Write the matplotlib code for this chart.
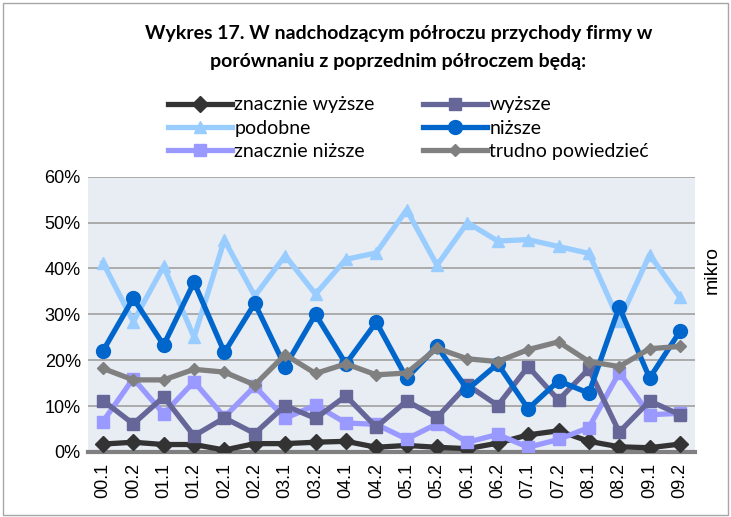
import matplotlib

matplotlib.use("Agg")
import matplotlib.pyplot as plt
from matplotlib.patches import Rectangle

periods = ["00.1", "00.2", "01.1", "01.2", "02.1", "02.2", "03.1", "03.2", "04.1", "04.2",
           "05.1", "05.2", "06.1", "06.2", "07.1", "07.2", "08.1", "08.2", "09.1", "09.2"]

znacznie_wyzsze = [1.7, 2.1, 1.6, 1.6, 0.4, 1.8, 1.8, 2.1, 2.3, 1.0,
                   1.4, 1.0, 0.7, 1.9, 3.7, 4.6, 2.3, 1.1, 0.9, 1.7]
wyzsze = [11.2, 6.1, 12.0, 3.5, 7.4, 4.0, 10.1, 7.3, 12.2, 5.4,
          11.1, 7.5, 14.6, 10.1, 18.6, 11.3, 18.1, 4.3, 11.1, 8.1]
podobne = [41.3, 28.4, 40.5, 25.0, 46.2, 34.0, 42.8, 34.4, 42.0, 43.4,
           52.8, 40.7, 50.0, 46.0, 46.3, 44.8, 43.3, 28.5, 43.0, 33.7]
nizsze = [22.0, 33.5, 23.3, 37.0, 21.7, 32.4, 18.6, 30.0, 19.2, 28.3,
          16.1, 23.0, 13.6, 19.2, 9.4, 15.5, 12.8, 31.6, 16.1, 26.3]
znacznie_nizsze = [6.6, 16.0, 8.3, 15.3, 7.6, 14.3, 7.3, 10.2, 6.3, 6.0,
                   2.8, 6.1, 2.1, 3.8, 1.0, 2.7, 5.3, 17.3, 8.1, 8.4]
trudno = [18.2, 15.7, 15.7, 18.0, 17.4, 14.6, 21.2, 17.1, 19.2, 16.8,
          17.2, 22.6, 20.3, 19.7, 22.3, 24.0, 19.7, 18.6, 22.5, 23.0]

y_ticks = [0, 10, 20, 30, 40, 50, 60]

series = [
    ("znacznie wyższe", znacznie_wyzsze, "#333333", "D", 8),
    ("podobne", podobne, "#99CCFF", "^", 9),
    ("znacznie niższe", znacznie_nizsze, "#9999FF", "s", 8.5),
    ("wyższe", wyzsze, "#666699", "s", 8.5),
    ("niższe", nizsze, "#0066CC", "o", 10),
    ("trudno powiedzieć", trudno, "#808080", "D", 6),
]
draw_order = [0, 3, 1, 4, 2, 5]

fig = plt.figure(figsize=(7.31, 5.17), dpi=100)
fig.patches.append(Rectangle((0.004, 0.004), 0.992, 0.99, transform=fig.transFigure,
                             fill=False, edgecolor="#A6A6A6", linewidth=1))
ax = fig.add_axes([0.120, 0.126, 0.831, 0.532])
ax.set_facecolor("#E8ECF3")

x = list(range(len(periods)))
handles = {}
for idx in draw_order[::-1]:
    name, vals, color, marker, ms = series[idx]
    (line,) = ax.plot(x, vals, color=color, marker=marker, markersize=ms, linewidth=3.8,
                      markeredgecolor=color, label=name, zorder=3 + idx)
    handles[idx] = line

ax.set_xlim(-0.5, len(periods) - 0.5)
ax.set_ylim(0, 60)
ax.set_yticks(y_ticks)
ax.set_yticklabels([f"{v}%" for v in y_ticks], fontsize=13, family="Liberation Sans")
ax.set_xticks(x)
ax.set_xticklabels(periods, rotation=90, fontsize=13, family="Liberation Sans")
ax.tick_params(axis="x", length=0, pad=8)
ax.tick_params(axis="y", length=0, pad=5)
ax.grid(axis="y", color="#A0A0A0", linewidth=1.2)
ax.set_axisbelow(True)
for side in ["top", "right", "left"]:
    ax.spines[side].set_visible(False)
ax.spines["bottom"].set_color("#808080")
ax.spines["bottom"].set_linewidth(3)

ax.text(1.028, 0.66, "mikro", transform=ax.transAxes, rotation=90, fontsize=14,
        family="Liberation Sans", ha="center", va="center")

fig.text(0.545, 0.935, "Wykres 17. W nadchodzącym półroczu przychody firmy w",
         fontsize=14, fontweight="bold", family="Lato", ha="center", va="center")
fig.text(0.545, 0.882, "porównaniu z poprzednim półroczem będą:",
         fontsize=14, fontweight="bold", family="Lato", ha="center", va="center")

fig.legend([handles[i] for i in range(6)], [s[0] for s in series], ncol=2,
           loc="center", bbox_to_anchor=(0.559, 0.752), frameon=False,
           prop={"family": "Lato", "size": 14}, handlelength=3.3, handletextpad=0.1,
           columnspacing=2.5, labelspacing=0.32, borderaxespad=0)

fig.savefig("out.png", dpi=100)
